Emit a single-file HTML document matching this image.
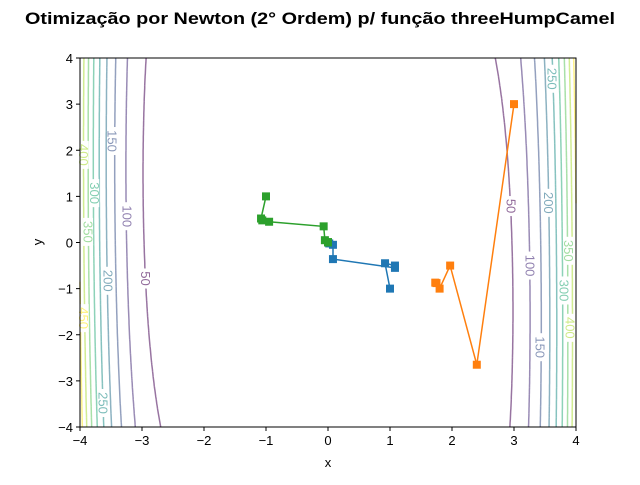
<!DOCTYPE html>
<html><head><meta charset="utf-8"><style>
body{margin:0;background:#fff}
svg text{font-family:"Liberation Sans",sans-serif}
</style></head><body>
<svg id="c" width="640" height="480" viewBox="0 0 640 480">
<text x="320" y="24" text-anchor="middle" font-size="17" font-weight="bold" textLength="590" lengthAdjust="spacingAndGlyphs">Otimização por Newton (2° Ordem) p/ função threeHumpCamel</text>
<g id="contours"></g>
<g id="labels"></g>
<g id="paths"></g>
<rect x="80" y="58" width="496" height="369" fill="none" stroke="#000" stroke-width="1"/>
<g id="axes"></g>
<text x="328" y="467" text-anchor="middle" font-size="13">x</text>
<text x="42" y="242" text-anchor="middle" font-size="13" transform="rotate(-90 42 242)">y</text>
</svg>
<script>
const levels=[50,100,150,200,250,300,350,400,450];
const xTicks=[-4,-3,-2,-1,0,1,2,3,4];
const yTicks=[-4,-3,-2,-1,0,1,2,3,4];
const orangeX=[3,2.4,1.97,1.8,1.75,1.73];
const orangeY=[3,-2.65,-0.5,-1.0,-0.88,-0.87];
const blueX=[1,0.92,1.08,1.08,0.08,0.08,0.02,0];
const blueY=[-1,-0.45,-0.5,-0.55,-0.36,-0.05,-0.02,0];
const greenX=[-1,-1.08,-1.06,-0.95,-0.07,-0.05,0,0];
const greenY=[1,0.52,0.48,0.45,0.35,0.05,0.01,0];
const labelTexts=["150","100","50","300","350","400","200","250","450","250","50","200","100","150","350","300","400"];
const labelLevels=[150,100,50,300,350,400,200,250,450,250,50,200,100,150,350,300,400];
const labelX=[-3.48,-3.24,-2.94,-3.77,-3.87,-3.94,-3.55,-3.63,-3.94,3.61,2.95,3.56,3.26,3.42,3.88,3.81,3.9];
const labelY=[2.2,0.57,-0.78,1.07,0.23,1.9,-0.83,-3.48,-1.64,3.55,0.79,0.86,-0.5,-2.27,-0.18,-1.04,-1.85];

const NS="http://www.w3.org/2000/svg";
const X0=80,X1=576,Y0=427,Y1=58;
const sx=v=>X0+(v+4)/8*(X1-X0);
const sy=v=>Y0-(v+4)/8*(Y0-Y1);
const f=(x,y)=>2*x*x-1.05*x**4+x**6/6+x*y+y*y;
const vir=[[68,1,84],[70,50,126],[54,92,141],[39,127,142],[31,161,135],[74,193,109],[160,218,57],[253,231,37]];
function col(t){const p=t*(vir.length-1),i=Math.min(Math.floor(p),vir.length-2),r=p-i;
 const c=vir[i].map((v,k)=>Math.round(v+(vir[i+1][k]-v)*r));return `rgb(${c})`;}
function mk(tag,attrs,parent){const e=document.createElementNS(NS,tag);for(const k in attrs)e.setAttribute(k,attrs[k]);parent.appendChild(e);return e;}
const cg=document.getElementById('contours');
const N=160;
for(let li=0;li<levels.length;li++){
 const L=levels[li];let d="";
 for(let i=0;i<N;i++)for(let j=0;j<N;j++){
  const x0=-4+8*i/N,x1=-4+8*(i+1)/N,y0=-4+8*j/N,y1=-4+8*(j+1)/N;
  const c=[[x0,y0,f(x0,y0)],[x1,y0,f(x1,y0)],[x1,y1,f(x1,y1)],[x0,y1,f(x0,y1)]];
  const pts=[];
  for(let k=0;k<4;k++){const a=c[k],b=c[(k+1)%4];
   if((a[2]-L)*(b[2]-L)<0){const t=(L-a[2])/(b[2]-a[2]);pts.push([a[0]+t*(b[0]-a[0]),a[1]+t*(b[1]-a[1])]);}}
  for(let k=0;k+1<pts.length;k+=2)d+=`M${sx(pts[k][0]).toFixed(1)},${sy(pts[k][1]).toFixed(1)}L${sx(pts[k+1][0]).toFixed(1)},${sy(pts[k+1][1]).toFixed(1)}`;
 }
 const p=mk('path',{d:d,stroke:col(li/(levels.length-1)),'stroke-opacity':0.55,'stroke-width':1.5,fill:'none'},cg);
 
 
}
const lg=document.getElementById('labels');
for(let i=0;i<labelTexts.length;i++){
 const x=sx(labelX[i]),y=sy(labelY[i]);
 const li=levels.indexOf(labelLevels[i]);
 const r=mk('rect',{x:x-5,y:y-(labelTexts[i].length*4+2),width:10,height:labelTexts[i].length*8+4,fill:'#fff'},lg);
 
 
 const t=mk('text',{x:x,y:y,'font-size':13,'text-anchor':'middle','dominant-baseline':'central',fill:col(li/(levels.length-1)),'fill-opacity':0.6,transform:`rotate(90 ${x} ${y})`},lg);
 t.textContent=labelTexts[i];
 
 
}
const pg=document.getElementById('paths');
function series(xs,ys,color,name){
 const pts=xs.map((v,i)=>`${sx(v).toFixed(1)},${sy(ys[i]).toFixed(1)}`).join(' ');
 const pl=mk('polyline',{points:pts,fill:'none',stroke:color,'stroke-width':1.5},pg);
 
 
 xs.forEach((v,i)=>{const m=mk('rect',{x:sx(v)-4,y:sy(ys[i])-4,width:8,height:8,fill:color},pg);
  
  });
}
series(orangeX,orangeY,'#ff7f0e','orange-path');
series(blueX,blueY,'#1f77b4','blue-path');
series(greenX,greenY,'#2ca02c','green-path');
const ag=document.getElementById('axes');
xTicks.forEach(v=>{const x=sx(v);
 const l=mk('line',{x1:x,x2:x,y1:Y0,y2:Y0+4,stroke:'#000'},ag);
 
 const t=mk('text',{x:x,y:Y0+18,'font-size':13,'text-anchor':'middle'},ag);t.textContent=v<0?'−'+(-v):v;
 });
yTicks.forEach(v=>{const y=sy(v);
 const l=mk('line',{x1:X0-4,x2:X0,y1:y,y2:y,stroke:'#000'},ag);
 
 const t=mk('text',{x:X0-7,y:y+5,'font-size':13,'text-anchor':'end'},ag);t.textContent=v<0?'−'+(-v):v;
 });
</script>
</body></html>
